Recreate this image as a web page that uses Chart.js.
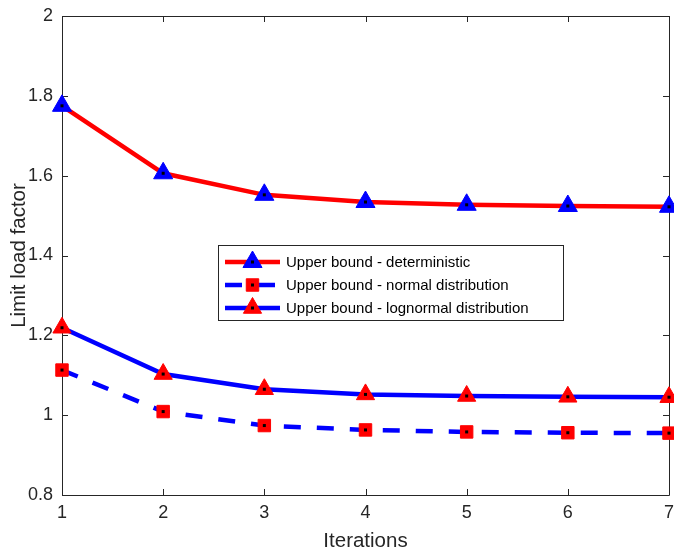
<!DOCTYPE html>
<html>
<head>
<meta charset="utf-8">
<script src="https://cdn.jsdelivr.net/npm/chart.js@4/dist/chart.umd.min.js"></script>
<style>
html,body{margin:0;padding:0;background:#fff;}
#wrap{width:674px;height:552px;position:relative;}
</style>
</head>
<body>
<div id="wrap"><canvas id="c" width="674" height="552"></canvas></div>
<script>
const iterations = [1, 2, 3, 4, 5, 6, 7];
const deterministic = [1.775, 1.606, 1.552, 1.534, 1.527, 1.524, 1.522];
const normalDist = [1.113, 1.009, 0.974, 0.963, 0.958, 0.956, 0.955];
const lognormalDist = [1.219, 1.103, 1.065, 1.052, 1.048, 1.046, 1.045];
const yTickValues = [0.8, 1.0, 1.2, 1.4, 1.6, 1.8, 2.0];
const yTickLabels = ['0.8', '1', '1.2', '1.4', '1.6', '1.8', '2'];
const xTickLabels = ['1', '2', '3', '4', '5', '6', '7'];
const seriesLabels = ['Upper bound - deterministic', 'Upper bound - normal distribution', 'Upper bound - lognormal distribution'];

const FONT = "'Liberation Sans', Arial, Helvetica, sans-serif";
const AX = '#262626';

function pts(arr){ return iterations.map((x,i)=>({x:x, y:arr[i]})); }

const boxPlugin = {
  id: 'boxPlugin',
  beforeDatasetsDraw(chart){
    const {ctx, chartArea:a, scales} = chart;
    ctx.save();
    ctx.strokeStyle = AX;
    ctx.lineWidth = 1;
    ctx.beginPath();
    ctx.rect(Math.round(a.left)+0.5, Math.round(a.top)+0.5, Math.round(a.right-a.left), Math.round(a.bottom-a.top));
    ctx.stroke();
    const L = 6;
    ctx.beginPath();
    yTickValues.forEach(v=>{
      const y = Math.round(scales.y.getPixelForValue(v))+0.5;
      ctx.moveTo(a.left, y); ctx.lineTo(a.left+L, y);
      ctx.moveTo(a.right, y); ctx.lineTo(a.right-L, y);
    });
    iterations.forEach(v=>{
      const x = Math.round(scales.x.getPixelForValue(v))+0.5;
      ctx.moveTo(x, a.bottom); ctx.lineTo(x, a.bottom-L);
      ctx.moveTo(x, a.top); ctx.lineTo(x, a.top+L);
    });
    ctx.stroke();
    ctx.restore();
  },
  afterDatasetsDraw(chart){
    const ctx = chart.ctx;
    ctx.save();
    ctx.fillStyle = '#000';
    chart.data.datasets.forEach((ds,i)=>{
      chart.getDatasetMeta(i).data.forEach(p=>{
        ctx.fillRect(p.x-1.5, p.y-1.5, 3, 3);
      });
    });
    // legend
    const x0 = 218, y0 = 245, w = 345, h = 75;
    ctx.fillStyle = '#fff';
    ctx.fillRect(x0, y0, w, h);
    ctx.strokeStyle = AX;
    ctx.lineWidth = 1;
    ctx.strokeRect(x0+0.5, y0+0.5, w, h);
    const rows = [262, 285, 308];
    chart.data.datasets.forEach((ds,i)=>{
      const y = rows[i];
      ctx.save();
      ctx.strokeStyle = ds.borderColor;
      ctx.lineWidth = ds.borderWidth;
      ctx.setLineDash(ds.borderDash || []);
      ctx.beginPath();
      ctx.moveTo(225, y); ctx.lineTo(280, y);
      ctx.stroke();
      ctx.restore();
      ctx.save();
      ctx.fillStyle = ds.pointBackgroundColor;
      ctx.strokeStyle = ds.pointBorderColor;
      ctx.lineWidth = 1;
      ctx.beginPath();
      Chart.helpers.drawPoint(ctx, {pointStyle: ds.pointStyle, rotation:0, radius: ds.pointRadius, borderWidth: 1}, 252.5, y);
      ctx.restore();
      ctx.fillStyle = '#000';
      ctx.fillRect(251, y-1.5, 3, 3);
      ctx.fillStyle = '#000';
      ctx.font = '15px ' + FONT;
      ctx.textBaseline = 'middle';
      ctx.textAlign = 'left';
      ctx.fillText(ds.label, 286, y+1);
    });
    ctx.restore();
  }
};

new Chart(document.getElementById('c'), {
  type: 'line',
  data: {
    datasets: [
      {label: seriesLabels[0], data: pts(deterministic), borderColor:'#ff0000', borderWidth:4.5,
       pointStyle:'triangle', pointRadius:11, pointBackgroundColor:'#0000ff', pointBorderColor:'#0000ff', pointBorderWidth:1, clip:false, order:3},
      {label: seriesLabels[1], data: pts(normalDist), borderColor:'#0000ff', borderWidth:4.5, borderDash:[17,16],
       pointStyle:'rect', pointRadius:8.8, pointBackgroundColor:'#ff0000', pointBorderColor:'#ff0000', pointBorderWidth:1, clip:false, order:2},
      {label: seriesLabels[2], data: pts(lognormalDist), borderColor:'#0000ff', borderWidth:4.5,
       pointStyle:'triangle', pointRadius:10.5, pointBackgroundColor:'#ff0000', pointBorderColor:'#ff0000', pointBorderWidth:1, clip:false, order:1}
    ]
  },
  options: {
    responsive:false, animation:false, events:[],
    layout:{autoPadding:false, padding:{top:16, right:5, left:0, bottom:0}},
    plugins:{legend:{display:false}, tooltip:{enabled:false}},
    elements:{line:{tension:0, fill:false}},
    scales:{
      x:{type:'linear', min:1, max:7,
         afterFit(s){ s.height = 57; s.paddingLeft = 0; s.paddingRight = 0; },
         afterBuildTicks(s){ s.ticks = iterations.map(v=>({value:v})); },
         ticks:{callback:(v,i)=>xTickLabels[i], color:AX, font:{family:FONT, size:18}, padding:7, maxRotation:0},
         grid:{display:false, drawTicks:false}, border:{display:false},
         title:{display:true, text:'Iterations', color:AX, font:{family:FONT, size:20.5, lineHeight:1.0}, padding:{top:0,bottom:0}}},
      y:{type:'linear', min:0.8, max:2,
         afterFit(s){ s.width = 62; s.paddingTop = 0; s.paddingBottom = 0; },
         afterBuildTicks(s){ s.ticks = yTickValues.map(v=>({value:v})); },
         ticks:{callback:(v,i)=>yTickLabels[i], color:AX, font:{family:FONT, size:18}, padding:9},
         grid:{display:false, drawTicks:false}, border:{display:false},
         title:{display:true, text:'Limit load factor', color:AX, font:{family:FONT, size:20.5, lineHeight:1.0}, padding:{top:9,bottom:0}}}
    }
  },
  plugins:[boxPlugin]
});
</script>
</body>
</html>
